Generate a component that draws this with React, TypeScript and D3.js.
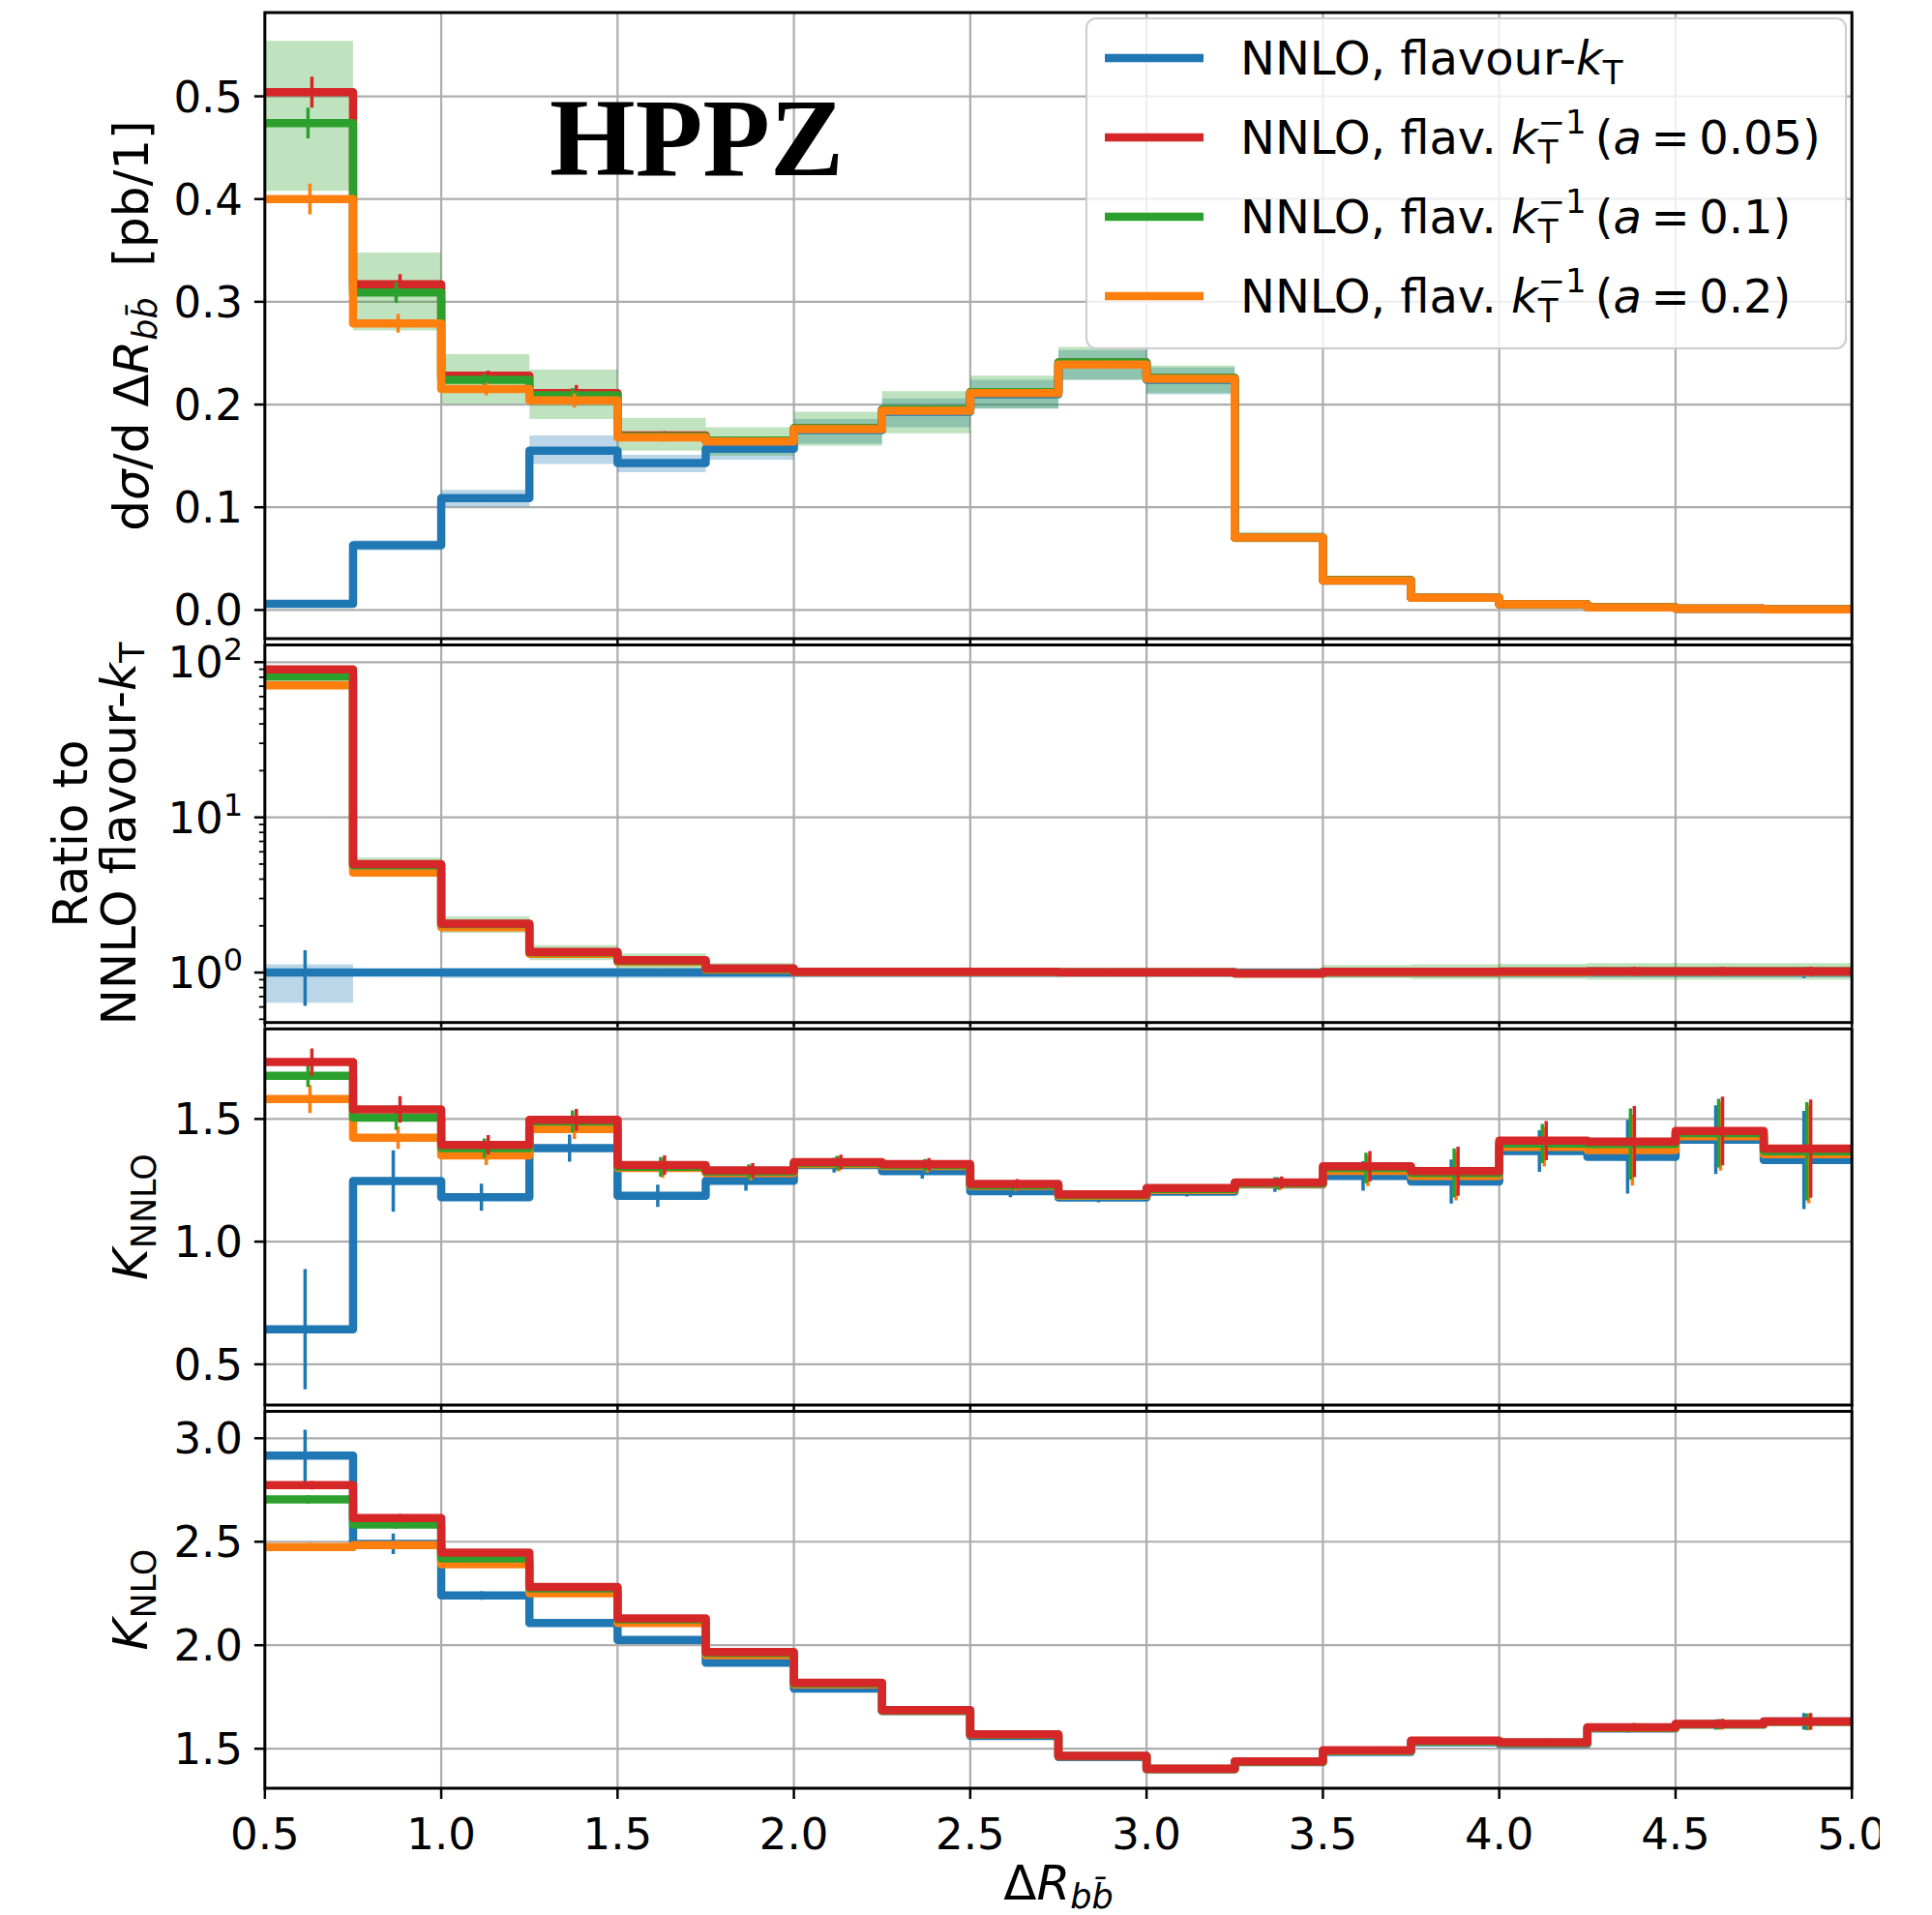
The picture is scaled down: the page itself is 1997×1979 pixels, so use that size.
import React from "react";
import * as d3 from "d3";

// ---------- categories / ticks ----------
const binEdges = [0.5, 0.75, 1.0, 1.25, 1.5, 1.75, 2.0, 2.25, 2.5, 2.75, 3.0, 3.25, 3.5, 3.75, 4.0, 4.25, 4.5, 4.75, 5.0];
const xTickValues = [0.5, 1.0, 1.5, 2.0, 2.5, 3.0, 3.5, 4.0, 4.5, 5.0];
const xTickLabels = ["0.5", "1.0", "1.5", "2.0", "2.5", "3.0", "3.5", "4.0", "4.5", "5.0"];

const seriesKeys = ["blue", "red", "green", "orange"];
const seriesColors = ["#1f77b4", "#d62728", "#2ca02c", "#ff7f0e"];
const legendAValues = ["", "0.05", "0.1", "0.2"];

// ---------- panel 1: dsigma/dDeltaR ----------
const sigTicks = [0.0, 0.1, 0.2, 0.3, 0.4, 0.5];
const sigTickLabels = ["0.0", "0.1", "0.2", "0.3", "0.4", "0.5"];
const sigBlue = [0.006, 0.063, 0.109, 0.155, 0.143, 0.157, 0.175, 0.193, 0.210, 0.239, 0.224, 0.0705, 0.0287, 0.0119, 0.0055, 0.0025, 0.0012, 0.0006];
const sigRed = [0.504, 0.317, 0.228, 0.211, 0.170, 0.165, 0.177, 0.195, 0.212, 0.241, 0.226, 0.0705, 0.029, 0.012, 0.0056, 0.0026, 0.0012, 0.0006];
const sigGreen = [0.474, 0.309, 0.224, 0.209, 0.169, 0.165, 0.177, 0.195, 0.212, 0.241, 0.226, 0.0705, 0.029, 0.012, 0.0056, 0.0026, 0.0012, 0.0006];
const sigOrange = [0.400, 0.279, 0.215, 0.204, 0.168, 0.164, 0.176, 0.194, 0.211, 0.239, 0.225, 0.0705, 0.0287, 0.0119, 0.0055, 0.0025, 0.0012, 0.0006];
const sigErrBlue = [0.001, 0.002, 0.002, 0.003, 0.003, 0.002, 0.002, 0.002, 0.002, 0.002, 0.002, 0.001, 0.001, 0.0005, 0.0003, 0.0002, 0.0001, 0.0001];
const sigErrRed = [0.015, 0.010, 0.005, 0.008, 0.004, 0.003, 0.003, 0.003, 0.002, 0.002, 0.002, 0.001, 0.001, 0.0005, 0.0003, 0.0002, 0.0001, 0.0001];
const sigErrGreen = [0.015, 0.010, 0.006, 0.007, 0.004, 0.003, 0.003, 0.003, 0.002, 0.002, 0.002, 0.001, 0.001, 0.0005, 0.0003, 0.0002, 0.0001, 0.0001];
const sigErrOrange = [0.015, 0.009, 0.006, 0.007, 0.004, 0.003, 0.003, 0.003, 0.002, 0.002, 0.002, 0.001, 0.001, 0.0005, 0.0003, 0.0002, 0.0001, 0.0001];
const sigBandGreenLo = [0.408, 0.272, 0.201, 0.186, 0.155, 0.150, 0.160, 0.172, 0.196, 0.224, 0.211, 0.066, 0.027, 0.011, 0.005, 0.0023, 0.0011, 0.0005];
const sigBandGreenHi = [0.554, 0.348, 0.249, 0.234, 0.187, 0.178, 0.193, 0.213, 0.228, 0.256, 0.238, 0.076, 0.031, 0.013, 0.006, 0.0028, 0.0013, 0.0007];
const sigBandBlueLo = [0.005, 0.058, 0.101, 0.142, 0.134, 0.146, 0.162, 0.178, 0.196, 0.224, 0.210, 0.066, 0.027, 0.011, 0.005, 0.0023, 0.0011, 0.0005];
const sigBandBlueHi = [0.007, 0.068, 0.117, 0.170, 0.151, 0.166, 0.186, 0.206, 0.224, 0.253, 0.236, 0.075, 0.031, 0.013, 0.006, 0.0027, 0.0013, 0.0007];

// ---------- panel 2: ratio to NNLO flavour-kT (log) ----------
const ratTicks = [1, 10, 100];
const ratTickExps = ["0", "1", "2"];
const ratMinorTicks = [0.5, 0.6, 0.7, 0.8, 0.9, 2, 3, 4, 5, 6, 7, 8, 9, 20, 30, 40, 50, 60, 70, 80, 90];
const ratBlue = [1, 1, 1, 1, 1, 1, 1, 1, 1, 1, 1, 1, 1, 1, 1, 1, 1, 1];
const ratRed = [90, 5.0, 2.07, 1.36, 1.20, 1.065, 1.01, 1.01, 1.01, 1.005, 1.005, 0.985, 1.01, 1.01, 1.015, 1.02, 1.02, 1.02];
const ratGreen = [81, 4.9, 2.05, 1.35, 1.19, 1.055, 1.01, 1.01, 1.01, 1.005, 1.005, 0.985, 1.01, 1.01, 1.015, 1.02, 1.02, 1.02];
const ratOrange = [71, 4.4, 1.96, 1.32, 1.17, 1.045, 1.005, 1.005, 1.005, 1.0, 1.0, 0.985, 1.0, 1.0, 1.005, 1.01, 1.01, 1.01];
const ratErrBlue = [0.39, 0.05, 0.02, 0.02, 0.02, 0.015, 0.012, 0.012, 0.012, 0.01, 0.01, 0.012, 0.02, 0.03, 0.04, 0.05, 0.05, 0.08];
const ratErrRed = [0.03, 0.03, 0.025, 0.03, 0.025, 0.02, 0.015, 0.015, 0.015, 0.012, 0.012, 0.015, 0.03, 0.04, 0.05, 0.07, 0.07, 0.07];
const ratErrGreen = [0.03, 0.03, 0.025, 0.03, 0.025, 0.02, 0.015, 0.015, 0.015, 0.012, 0.012, 0.015, 0.03, 0.04, 0.05, 0.06, 0.06, 0.06];
const ratErrOrange = [0.03, 0.03, 0.025, 0.03, 0.025, 0.02, 0.015, 0.015, 0.015, 0.012, 0.012, 0.015, 0.03, 0.04, 0.05, 0.06, 0.06, 0.06];
const ratBandBlueLo = [0.64, 0.95, 0.92, 0.92, 0.92, 0.92, 0.93, 0.93, 0.93, 0.93, 0.93, 0.93, 0.93, 0.93, 0.93, 0.93, 0.93, 0.93];
const ratBandBlueHi = [1.13, 1.05, 1.07, 1.07, 1.07, 1.07, 1.06, 1.06, 1.06, 1.06, 1.06, 1.06, 1.06, 1.06, 1.06, 1.06, 1.06, 1.06];
const ratBandGreenLo = [68, 4.3, 1.8, 1.2, 1.06, 0.96, 0.95, 0.95, 0.95, 0.95, 0.95, 0.93, 0.92, 0.91, 0.91, 0.90, 0.90, 0.90];
const ratBandGreenHi = [95, 5.5, 2.3, 1.5, 1.33, 1.15, 1.08, 1.08, 1.07, 1.06, 1.06, 1.05, 1.12, 1.13, 1.14, 1.15, 1.15, 1.15];

// ---------- panel 3: K_NNLO ----------
const knnloTicks = [0.5, 1.0, 1.5];
const knnloTickLabels = ["0.5", "1.0", "1.5"];
const knnloBlue = [0.643, 1.247, 1.181, 1.381, 1.187, 1.248, 1.312, 1.287, 1.206, 1.180, 1.204, 1.233, 1.268, 1.245, 1.369, 1.346, 1.416, 1.333];
const knnloRed = [1.732, 1.539, 1.394, 1.496, 1.312, 1.290, 1.324, 1.316, 1.235, 1.193, 1.218, 1.241, 1.307, 1.287, 1.412, 1.408, 1.451, 1.379];
const knnloGreen = [1.676, 1.505, 1.381, 1.490, 1.305, 1.285, 1.320, 1.312, 1.230, 1.190, 1.214, 1.238, 1.300, 1.280, 1.400, 1.398, 1.442, 1.368];
const knnloOrange = [1.581, 1.424, 1.352, 1.459, 1.300, 1.280, 1.316, 1.308, 1.227, 1.187, 1.211, 1.235, 1.288, 1.268, 1.386, 1.373, 1.429, 1.356];
const knnloErrBlue = [0.245, 0.125, 0.055, 0.055, 0.045, 0.04, 0.03, 0.03, 0.025, 0.02, 0.02, 0.03, 0.06, 0.09, 0.085, 0.15, 0.14, 0.2];
const knnloErrRed = [0.055, 0.054, 0.04, 0.045, 0.04, 0.03, 0.03, 0.025, 0.02, 0.015, 0.015, 0.025, 0.062, 0.1, 0.08, 0.145, 0.14, 0.2];
const knnloErrGreen = [0.045, 0.05, 0.04, 0.045, 0.04, 0.03, 0.03, 0.025, 0.02, 0.015, 0.015, 0.025, 0.062, 0.1, 0.08, 0.145, 0.14, 0.2];
const knnloErrOrange = [0.057, 0.046, 0.04, 0.04, 0.04, 0.03, 0.03, 0.025, 0.02, 0.015, 0.015, 0.025, 0.062, 0.1, 0.08, 0.145, 0.14, 0.2];

// ---------- panel 4: K_NLO ----------
const knloTicks = [1.5, 2.0, 2.5, 3.0];
const knloTickLabels = ["1.5", "2.0", "2.5", "3.0"];
const knloBlue = [2.916, 2.490, 2.240, 2.107, 2.026, 1.916, 1.791, 1.682, 1.562, 1.460, 1.400, 1.435, 1.484, 1.531, 1.523, 1.598, 1.617, 1.632];
const knloRed = [2.773, 2.614, 2.447, 2.282, 2.129, 1.967, 1.819, 1.687, 1.570, 1.466, 1.404, 1.439, 1.492, 1.539, 1.531, 1.604, 1.620, 1.632];
const knloGreen = [2.704, 2.583, 2.419, 2.274, 2.125, 1.962, 1.815, 1.685, 1.568, 1.464, 1.402, 1.437, 1.490, 1.536, 1.529, 1.602, 1.618, 1.630];
const knloOrange = [2.474, 2.484, 2.391, 2.251, 2.107, 1.952, 1.810, 1.683, 1.567, 1.463, 1.401, 1.436, 1.489, 1.535, 1.528, 1.600, 1.617, 1.630];
const knloErrBlue = [0.125, 0.05, 0.02, 0.015, 0.01, 0.01, 0.01, 0.01, 0.01, 0.01, 0.01, 0.01, 0.01, 0.01, 0.015, 0.02, 0.025, 0.04];
const knloErrRed = [0.02, 0.02, 0.015, 0.012, 0.01, 0.01, 0.01, 0.01, 0.01, 0.01, 0.01, 0.01, 0.01, 0.01, 0.015, 0.02, 0.025, 0.04];
const knloErrGreen = [0.02, 0.02, 0.015, 0.012, 0.01, 0.01, 0.01, 0.01, 0.01, 0.01, 0.01, 0.01, 0.01, 0.01, 0.015, 0.02, 0.025, 0.04];
const knloErrOrange = [0.02, 0.02, 0.015, 0.012, 0.01, 0.01, 0.01, 0.01, 0.01, 0.01, 0.01, 0.01, 0.01, 0.01, 0.015, 0.02, 0.025, 0.04];

// ---------- layout ----------
const W = 1997;
const H = 1979;
const X0 = 273.8;
const X1 = 1914.2;
const FONT = "DejaVu Sans";
const LINE_W = 8.5;
const ERR_W = 3.5;
const GRID = "#adadad";
const TICK_FS = 45;
const errOffsets: Record<string, number> = { blue: -4, red: 3, green: -1, orange: 1 };

type Series = {
  key: string;
  color: string;
  vals: number[];
  errs: number[];
  bandLo?: number[];
  bandHi?: number[];
};

type PanelDef = {
  id: string;
  top: number;
  bottom: number;
  y: any;
  log: boolean;
  ticks: number[];
  tickLabels: (v: number, i: number) => React.ReactNode;
  minor?: number[];
  series: Series[];
  order: string[];
  xLabels: boolean;
};

const x = d3.scaleLinear().domain([0.5, 5.0]).range([X0, X1]);

function stepPath(y: any, vals: number[]) {
  const pts: [number, number][] = vals.map((v, i) => [binEdges[i], v]);
  pts.push([binEdges[binEdges.length - 1], vals[vals.length - 1]]);
  return d3
    .line<[number, number]>()
    .x((d) => x(d[0]))
    .y((d) => y(d[1]))
    .curve(d3.curveStepAfter)(pts) as string;
}

function bandPath(y: any, lo: number[], hi: number[]) {
  const pts: [number, number, number][] = lo.map((l, i) => [binEdges[i], l, hi[i]]);
  pts.push([binEdges[binEdges.length - 1], lo[lo.length - 1], hi[hi.length - 1]]);
  return d3
    .area<[number, number, number]>()
    .x((d) => x(d[0]))
    .y0((d) => y(d[1]))
    .y1((d) => y(d[2]))
    .curve(d3.curveStepAfter)(pts) as string;
}

function mk(keyIdx: number, vals: number[], errs: number[], lo?: number[], hi?: number[]): Series {
  return { key: seriesKeys[keyIdx], color: seriesColors[keyIdx], vals, errs, bandLo: lo, bandHi: hi };
}

const linearLabel = (labels: string[]) => (_v: number, i: number) => labels[i];

const panels: PanelDef[] = [
  {
    id: "p1",
    top: 13,
    bottom: 660,
    y: d3.scaleLinear().domain([-0.0279, 0.5815]).range([660, 13]),
    log: false,
    ticks: sigTicks,
    tickLabels: linearLabel(sigTickLabels),
    series: [
      mk(0, sigBlue, sigErrBlue, sigBandBlueLo, sigBandBlueHi),
      mk(1, sigRed, sigErrRed),
      mk(2, sigGreen, sigErrGreen, sigBandGreenLo, sigBandGreenHi),
      mk(3, sigOrange, sigErrOrange),
    ],
    order: ["blue", "red", "green", "orange"],
    xLabels: false,
  },
  {
    id: "p2",
    top: 666.5,
    bottom: 1056.7,
    y: d3.scaleLog().domain([Math.pow(10, -0.322), Math.pow(10, 2.111)]).range([1056.7, 666.5]),
    log: true,
    ticks: ratTicks,
    tickLabels: (_v: number, i: number) => (
      <>
        10<tspan fontSize={32} dy={-18}>{ratTickExps[i]}</tspan>
      </>
    ),
    minor: ratMinorTicks,
    series: [
      mk(0, ratBlue, ratErrBlue, ratBandBlueLo, ratBandBlueHi),
      mk(1, ratRed, ratErrRed),
      mk(2, ratGreen, ratErrGreen, ratBandGreenLo, ratBandGreenHi),
      mk(3, ratOrange, ratErrOrange),
    ],
    order: ["blue", "orange", "green", "red"],
    xLabels: false,
  },
  {
    id: "p3",
    top: 1063.3,
    bottom: 1452,
    y: d3.scaleLinear().domain([0.334, 1.867]).range([1452, 1063.3]),
    log: false,
    ticks: knnloTicks,
    tickLabels: linearLabel(knnloTickLabels),
    series: [
      mk(0, knnloBlue, knnloErrBlue),
      mk(1, knnloRed, knnloErrRed),
      mk(2, knnloGreen, knnloErrGreen),
      mk(3, knnloOrange, knnloErrOrange),
    ],
    order: ["blue", "orange", "green", "red"],
    xLabels: false,
  },
  {
    id: "p4",
    top: 1458.5,
    bottom: 1848,
    y: d3.scaleLinear().domain([1.309, 3.13]).range([1848, 1458.5]),
    log: false,
    ticks: knloTicks,
    tickLabels: linearLabel(knloTickLabels),
    series: [
      mk(0, knloBlue, knloErrBlue),
      mk(1, knloRed, knloErrRed),
      mk(2, knloGreen, knloErrGreen),
      mk(3, knloOrange, knloErrOrange),
    ],
    order: ["blue", "orange", "green", "red"],
    xLabels: true,
  },
];

function Panel({ p }: { p: PanelDef }) {
  const clipId = `clip-${p.id}`;
  const ordered = p.order.map((k) => p.series.find((s) => s.key === k) as Series);
  const centers = binEdges.slice(0, -1).map((e, i) => (e + binEdges[i + 1]) / 2);
  return (
    <g>
      <defs>
        <clipPath id={clipId}>
          <rect x={X0} y={p.top} width={X1 - X0} height={p.bottom - p.top} />
        </clipPath>
      </defs>
      {/* grid */}
      <g stroke={GRID} strokeWidth={2.2}>
        {xTickValues.map((t) => (
          <line key={`gx${t}`} x1={x(t)} x2={x(t)} y1={p.top} y2={p.bottom} />
        ))}
        {p.ticks.map((t) => (
          <line key={`gy${t}`} x1={X0} x2={X1} y1={p.y(t)} y2={p.y(t)} />
        ))}
      </g>
      <g clipPath={`url(#${clipId})`}>
        {/* bands first */}
        {ordered.map((s) =>
          s.bandLo && s.bandHi ? (
            <path key={`b${s.key}`} d={bandPath(p.y, s.bandLo, s.bandHi)} fill={s.color} fillOpacity={0.3} stroke="none" />
          ) : null
        )}
        {ordered.map((s) => (
          <g key={s.key}>
            <path
              d={stepPath(p.y, s.vals)}
              fill="none"
              stroke={s.color}
              strokeWidth={LINE_W}
              strokeLinejoin="round"
            />
            {s.vals.map((v, i) => {
              const lo = p.log ? v * (1 - s.errs[i]) : v - s.errs[i];
              const hi = p.log ? v * (1 + s.errs[i]) : v + s.errs[i];
              const cx = x(centers[i]) + errOffsets[s.key];
              return (
                <line
                  key={`e${i}`}
                  x1={cx}
                  x2={cx}
                  y1={p.y(lo)}
                  y2={p.y(hi)}
                  stroke={s.color}
                  strokeWidth={ERR_W}
                />
              );
            })}
          </g>
        ))}
      </g>
      {/* frame */}
      <rect x={X0} y={p.top} width={X1 - X0} height={p.bottom - p.top} fill="none" stroke="#000" strokeWidth={3} />
      {/* ticks */}
      <g stroke="#000">
        {p.ticks.map((t) => (
          <line key={`ty${t}`} x1={X0 - 11} x2={X0} y1={p.y(t)} y2={p.y(t)} strokeWidth={2.5} />
        ))}
        {(p.minor || []).map((t) => (
          <line key={`tm${t}`} x1={X0 - 6} x2={X0} y1={p.y(t)} y2={p.y(t)} strokeWidth={1.8} />
        ))}
        {xTickValues.map((t) => (
          <line key={`tx${t}`} x1={x(t)} x2={x(t)} y1={p.bottom} y2={p.bottom + (p.xLabels ? 11 : 5)} strokeWidth={2.5} />
        ))}
      </g>
      <g fontFamily={FONT} fontSize={TICK_FS} fill="#000">
        {p.ticks.map((t, i) => (
          <text key={`ly${t}`} x={251} y={p.y(t) + 16} textAnchor="end">
            {p.tickLabels(t, i)}
          </text>
        ))}
      </g>
      {p.xLabels && (
        <g fontFamily={FONT} fontSize={TICK_FS} fill="#000" clipPath="url(#xlabclip)">
          {xTickValues.map((t, i) => (
            <text key={`lx${t}`} x={x(t)} y={1911} textAnchor="middle">
              {xTickLabels[i]}
            </text>
          ))}
        </g>
      )}
    </g>
  );
}

function Legend() {
  const rows = [60, 142, 224, 306];
  return (
    <g>
      <rect x={1123} y={19} width={785} height={341} rx={10} fill="#fff" fillOpacity={0.8} stroke="#cccccc" strokeWidth={2} />
      {seriesKeys.map((k, i) => (
        <g key={k}>
          <line x1={1142} x2={1244} y1={rows[i]} y2={rows[i]} stroke={seriesColors[i]} strokeWidth={LINE_W} />
          {i === 0 ? (
            <text x={1282} y={rows[i] + 17} fontFamily={FONT} fontSize={48} fill="#000">
              NNLO, flavour-<tspan fontStyle="italic">k</tspan>
              <tspan fontSize={34} dy={10}>T</tspan>
            </text>
          ) : (
            <text x={1282} y={rows[i] + 17} fontFamily={FONT} fontSize={48} fill="#000">
              NNLO, flav. <tspan fontStyle="italic">k</tspan>
              <tspan fontSize={34} dy={10}>T</tspan>
              <tspan fontSize={34} dx={-21} dy={-31}>−1</tspan>
              <tspan dy={21} dx={9}>(</tspan>
              <tspan fontStyle="italic">a</tspan>
              <tspan>{"\u2009=\u2009" + legendAValues[i] + ")"}</tspan>
            </text>
          )}
        </g>
      ))}
    </g>
  );
}

export default function App() {
  return (
    <svg
      width={W}
      height={H}
      viewBox={`0 0 ${W} ${H}`}
      style={{ position: "absolute", left: 0, top: 0, background: "#fff" }}
    >
      <defs>
        <clipPath id="xlabclip">
          <rect x={0} y={1850} width={1943} height={120} />
        </clipPath>
      </defs>
      <rect x={0} y={0} width={W} height={H} fill="#fff" />
      {panels.map((p) => (
        <Panel key={p.id} p={p} />
      ))}
      <text x={568} y={181} fontFamily="Liberation Serif" fontWeight="bold" fontSize={114} fill="#000">
        HPPZ
      </text>
      <Legend />
      {/* axis labels */}
      <g fontFamily={FONT} fontSize={50} fill="#000" textAnchor="middle">
        <text transform="translate(153,336.5) rotate(-90)">
          d<tspan fontStyle="italic">σ</tspan>/d Δ<tspan fontStyle="italic">R</tspan>
          <tspan fontStyle="italic" fontSize={35} dy={9}>{"bb\u0304"}</tspan>
          <tspan dy={-9}>{"\u00a0\u00a0[pb/1]"}</tspan>
        </text>
        <text transform="translate(90,861.6) rotate(-90)">Ratio to</text>
        <text transform="translate(140,861.6) rotate(-90)">
          NNLO flavour-<tspan fontStyle="italic">k</tspan>
          <tspan fontSize={35} dy={9}>T</tspan>
        </text>
        <text transform="translate(152,1257.6) rotate(-90)">
          <tspan fontStyle="italic">K</tspan>
          <tspan fontSize={35} dy={9}>NNLO</tspan>
        </text>
        <text transform="translate(152,1653) rotate(-90)">
          <tspan fontStyle="italic">K</tspan>
          <tspan fontSize={35} dy={9}>NLO</tspan>
        </text>
        <text x={1094} y={1963}>
          Δ<tspan fontStyle="italic">R</tspan>
          <tspan fontStyle="italic" fontSize={35} dy={9}>{"bb\u0304"}</tspan>
        </text>
      </g>
    </svg>
  );
}
